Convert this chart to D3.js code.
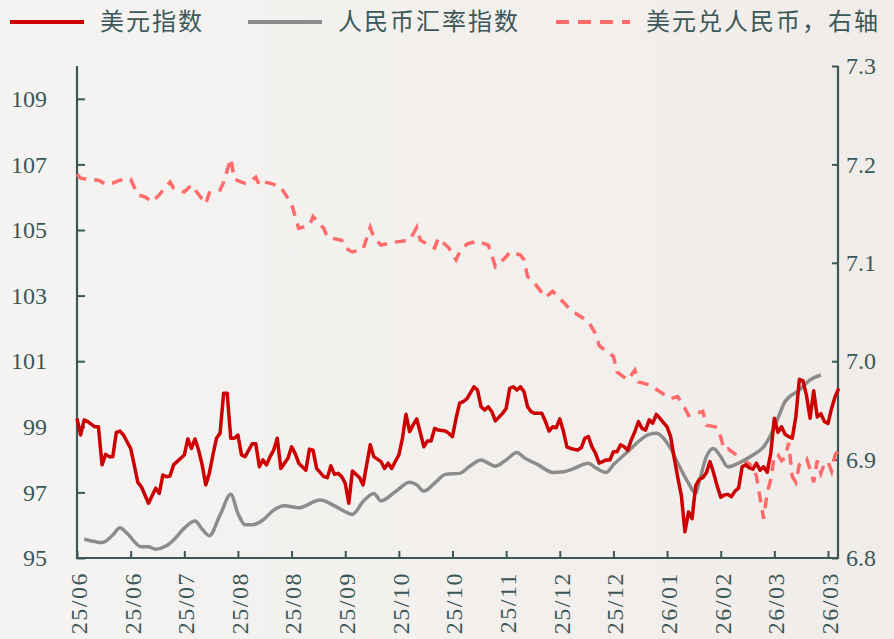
<!DOCTYPE html>
<html>
<head>
<meta charset="utf-8">
<script src="https://cdn.jsdelivr.net/npm/d3@7"></script>
<style>
  html, body { margin: 0; padding: 0; background: #f3f1ee; }
  svg { display: block; }
</style>
</head>
<body>
<div id="chart"></div>
<script>
const width_chart = 894
const height_chart = 639

const color_usd = "#cc0000"
const color_cny = "#8c8c8c"
const color_usdcny = "#ff6b6b"
const color_axis = "#3b5757"

// trading day index, value
const dias_ticks = [0, 15, 30, 45, 60, 75, 90, 105, 120, 135, 150, 165, 180, 195, 210]
const etiquetas_x = ["25/06", "25/06", "25/07", "25/08", "25/08", "25/09", "25/10", "25/10",
    "25/11", "25/12", "25/12", "26/01", "26/02", "26/03", "26/03"]
const ticks_izq = [95, 97, 99, 101, 103, 105, 107, 109]
const ticks_der = [6.8, 6.9, 7.0, 7.1, 7.2, 7.3]

const nombres_series = ["美元指数", "人民币汇率指数", "美元兑人民币，右轴"]

const usd_index = [[0,99.26],[1,98.75],[2,99.21],[3,99.16],[5,99.00],[6,99.00],[7,97.84],[8,98.16],[9,98.09],[10,98.09],
    [11,98.83],[12,98.87],[13,98.75],[15,98.34],[16,97.84],[17,97.31],[18,97.17],[20,96.67],[22,97.13],[23,96.97],
    [24,97.53],[25,97.48],[26,97.50],[27,97.84],[29,98.04],[30,98.14],[31,98.63],[32,98.34],[33,98.63],[34,98.29],
    [35,97.84],[36,97.23],[37,97.58],[38,98.14],[39,98.65],[40,98.80],[41,100.02],[42,100.02],[43,98.65],[44,98.65],
    [45,98.75],[46,98.14],[47,98.09],[49,98.48],[50,98.48],[51,97.78],[52,97.99],[53,97.84],[54,98.09],[55,98.29],
    [56,98.65],[57,97.73],[59,98.04],[60,98.39],[61,98.19],[62,97.89],[63,97.78],[64,97.68],[65,98.32],[66,98.29],
    [67,97.73],[69,97.48],[70,97.45],[71,97.81],[72,97.55],[73,97.58],[74,97.48],[75,97.28],[76,96.67],[77,97.65],
    [79,97.45],[80,97.23],[82,98.45],[83,98.09],[85,97.94],[86,97.73],[87,97.89],[88,97.73],[89,97.94],[90,98.14],
    [91,98.65],[92,99.38],[93,98.85],[94,99.06],[95,99.24],[97,98.39],[98,98.57],[99,98.57],[100,98.95],[101,98.90],
    [103,98.87],[104,98.80],[105,98.70],[106,99.26],[107,99.72],[108,99.77],[109,99.85],[111,100.22],[112,100.12],[113,99.61],
    [114,99.51],[115,99.61],[116,99.46],[117,99.18],[119,99.41],[120,99.56],[121,100.17],[122,100.22],[123,100.12],[124,100.22],
    [125,100.07],[126,99.61],[127,99.46],[128,99.41],[130,99.41],[131,99.16],[132,98.87],[133,99.00],[134,98.97],[135,99.24],
    [136,98.87],[137,98.39],[138,98.34],[140,98.29],[141,98.36],[142,98.65],[143,98.70],[144,98.39],[145,98.19],[146,97.89],
    [147,97.94],[148,97.99],[149,97.99],[150,98.24],[151,98.24],[152,98.45],[153,98.39],[154,98.29],[155,98.60],[156,98.85],
    [157,99.16],[158,98.95],[159,98.90],[160,99.21],[161,99.11],[162,99.38],[163,99.26],[165,99.00],[166,98.70],[167,98.05],
    [168,97.45],[169,96.90],[170,95.80],[171,96.40],[172,96.20],[173,97.20],[174,97.40],[175,97.45],[176,97.60],[177,97.94],
    [178,97.60],[179,97.20],[180,96.85],[181,96.92],[182,96.94],[183,96.87],[184,97.04],[185,97.13],[186,97.78],[187,97.84],
    [188,97.75],[189,97.71],[190,97.89],[191,97.68],[192,97.78],[193,97.61],[194,98.20],[195,99.26],[196,98.83],[197,99.00],
    [198,98.77],[199,98.70],[200,98.65],[201,99.30],[202,100.45],[203,100.40],[204,99.95],[205,99.26],[206,100.10],[207,99.30],
    [208,99.40],[209,99.16],[210,99.10],[211,99.56],[212,99.92],[213,100.17]]

const cny_index = [[2,95.57],[5,95.50],[7,95.47],[10,95.70],[12,95.92],[14,95.75],[18,95.34],[20,95.34],[22,95.27],[25,95.37],
    [27,95.55],[30,95.91],[33,96.13],[35,95.88],[37,95.68],[40,96.31],[43,96.94],[45,96.36],[47,96.01],[49,96.01],
    [52,96.16],[55,96.46],[58,96.59],[62,96.53],[68,96.77],[72,96.59],[75,96.41],[77,96.33],[80,96.72],[83,96.97],
    [85,96.74],[89,97.02],[93,97.31],[95,97.23],[97,97.04],[100,97.28],[103,97.55],[107,97.58],[110,97.81],[113,97.99],
    [115,97.89],[117,97.80],[120,97.99],[123,98.22],[125,98.06],[129,97.84],[133,97.61],[136,97.63],[139,97.73],[143,97.89],
    [145,97.75],[148,97.61],[150,97.84],[154,98.24],[160,98.77],[162,98.80],[164,98.65],[166,98.34],[168,97.89],[171,97.28],
    [173,96.97],[174,97.33],[176,98.09],[178,98.34],[180,98.09],[182,97.78],[185,97.89],[189,98.14],[192,98.39],[194,98.75],
    [196,99.26],[198,99.77],[202,100.12],[205,100.43],[208,100.58]]

const usd_cny = [[0,7.190],[1,7.186],[3,7.185],[6,7.184],[8,7.180],[10,7.181],[12,7.184],[15,7.185],[17,7.169],[19,7.167],
    [21,7.162],[23,7.169],[26,7.182],[27,7.176],[30,7.172],[32,7.179],[36,7.160],[37,7.171],[40,7.174],[41,7.182],
    [43,7.206],[44,7.185],[46,7.182],[47,7.181],[48,7.182],[50,7.187],[51,7.179],[52,7.182],[54,7.181],[57,7.177],
    [58,7.171],[60,7.160],[61,7.147],[62,7.135],[65,7.138],[66,7.147],[69,7.135],[70,7.126],[74,7.123],[75,7.115],
    [77,7.111],[80,7.114],[82,7.136],[83,7.126],[85,7.118],[89,7.121],[93,7.123],[95,7.136],[96,7.123],[100,7.115],
    [101,7.125],[104,7.115],[106,7.103],[107,7.111],[109,7.119],[112,7.122],[115,7.118],[116,7.108],[117,7.096],[120,7.106],
    [121,7.111],[124,7.108],[125,7.103],[126,7.086],[128,7.079],[131,7.065],[133,7.071],[136,7.060],[138,7.052],[141,7.045],
    [143,7.040],[145,7.028],[146,7.016],[148,7.010],[150,7.005],[151,6.989],[154,6.981],[156,6.991],[157,6.979],[160,6.976],
    [163,6.969],[166,6.962],[168,6.964],[170,6.952],[171,6.945],[175,6.949],[176,6.935],[179,6.933],[180,6.923],[181,6.910],
    [182,6.911],[185,6.903],[189,6.893],[190,6.883],[191,6.861],[192,6.840],[193,6.866],[194,6.880],[195,6.904],[196,6.905],
    [197,6.899],[198,6.902],[199,6.917],[200,6.883],[201,6.877],[202,6.895],[203,6.899],[204,6.901],[205,6.890],[206,6.877],
    [207,6.899],[208,6.886],[209,6.896],[210,6.898],[211,6.888],[212,6.905],[213,6.910]]

const fuente = "'Liberation Serif', 'Noto Sans CJK SC', serif"

const svg = d3.select("#chart").append("svg")
    .attr("width", width_chart)
    .attr("height", height_chart)

const grad = svg.append("defs").append("linearGradient")
    .attr("id", "fondo")
    .attr("x1", "0%").attr("x2", "100%")
grad.append("stop").attr("offset", "0%").attr("stop-color", "#f5f4f2")
grad.append("stop").attr("offset", "100%").attr("stop-color", "#f0ece9")

svg.append("rect")
    .attr("width", width_chart)
    .attr("height", height_chart)
    .attr("fill", "url(#fondo)")

const m_left = 77, m_right = 838, m_top = 66, m_bottom = 558

const x = d3.scaleLinear().domain([0, 212.8]).range([m_left, m_right])
const yIzq = d3.scaleLinear().domain([95, 110]).range([m_bottom, m_top])
const yDer = d3.scaleLinear().domain([6.8, 7.3]).range([m_bottom, m_top])

// axes
const ejeX = svg.append("g")
    .attr("transform", `translate(0,${m_bottom})`)
    .call(d3.axisBottom(x).tickValues(dias_ticks).tickSizeInner(-7).tickSizeOuter(0)
        .tickFormat((d, i) => etiquetas_x[i]))
ejeX.select(".domain").remove()

const ejeIzq = svg.append("g")
    .attr("transform", `translate(${m_left},0)`)
    .call(d3.axisLeft(yIzq).tickValues(ticks_izq).tickSizeInner(-8).tickSizeOuter(0).tickPadding(30))
ejeIzq.select(".domain").remove()

const ejeDer = svg.append("g")
    .attr("transform", `translate(${m_right},0)`)
    .call(d3.axisRight(yDer).tickValues(ticks_der).tickSizeInner(-6).tickSizeOuter(0).tickPadding(8)
        .tickFormat(d3.format(".1f")))
ejeDer.select(".domain").remove()

svg.selectAll(".tick line")
    .attr("stroke", color_axis)
    .attr("stroke-width", 2)
svg.selectAll(".tick text")
    .attr("fill", color_axis)
    .attr("font-family", fuente)
    .attr("font-size", 24)

ejeX.selectAll("text")
    .attr("transform", "rotate(-90)")
    .attr("text-anchor", "end")
    .attr("x", -14)
    .attr("y", 1)
    .attr("dy", "0.35em")
    .attr("font-size", 24)
    .attr("letter-spacing", 1.5)

// frame lines
svg.append("path")
    .attr("d", `M${m_left},${m_top}V${m_bottom}H${m_right}V${m_top}`)
    .attr("fill", "none")
    .attr("stroke", color_axis)
    .attr("stroke-width", 2.2)

const lineaIzq = d3.line().x(d => x(d[0])).y(d => yIzq(d[1]))
const lineaDer = d3.line().x(d => x(d[0])).y(d => yDer(d[1]))

svg.append("path")
    .datum(usd_cny)
    .attr("d", lineaDer)
    .attr("fill", "none")
    .attr("stroke", color_usdcny)
    .attr("stroke-width", 3.5)
    .attr("stroke-dasharray", "11,8")

svg.append("path")
    .datum(cny_index)
    .attr("d", d3.line().x(d => x(d[0])).y(d => yIzq(d[1])).curve(d3.curveMonotoneX))
    .attr("fill", "none")
    .attr("stroke", color_cny)
    .attr("stroke-width", 3.5)

svg.append("path")
    .datum(usd_index)
    .attr("d", lineaIzq)
    .attr("fill", "none")
    .attr("stroke", color_usd)
    .attr("stroke-width", 3.5)
    .attr("stroke-linejoin", "round")

// legend
const leyenda = [
    {x: 10, color: color_usd, dash: null},
    {x: 248, color: color_cny, dash: null},
    {x: 556, color: color_usdcny, dash: "13,9"}
]
const items = svg.append("g").selectAll("g")
    .data(leyenda)
    .join("g")
    .attr("transform", d => `translate(${d.x},22)`)

items.append("line")
    .attr("x1", 0).attr("x2", 74)
    .attr("stroke", d => d.color)
    .attr("stroke-width", 4)
    .attr("stroke-dasharray", d => d.dash)

items.append("text")
    .text((d, i) => nombres_series[i])
    .attr("x", 90)
    .attr("dy", "0.35em")
    .attr("fill", color_axis)
    .attr("font-family", fuente)
    .attr("font-size", 24)
    .attr("letter-spacing", 2)
</script>
</body>
</html>
